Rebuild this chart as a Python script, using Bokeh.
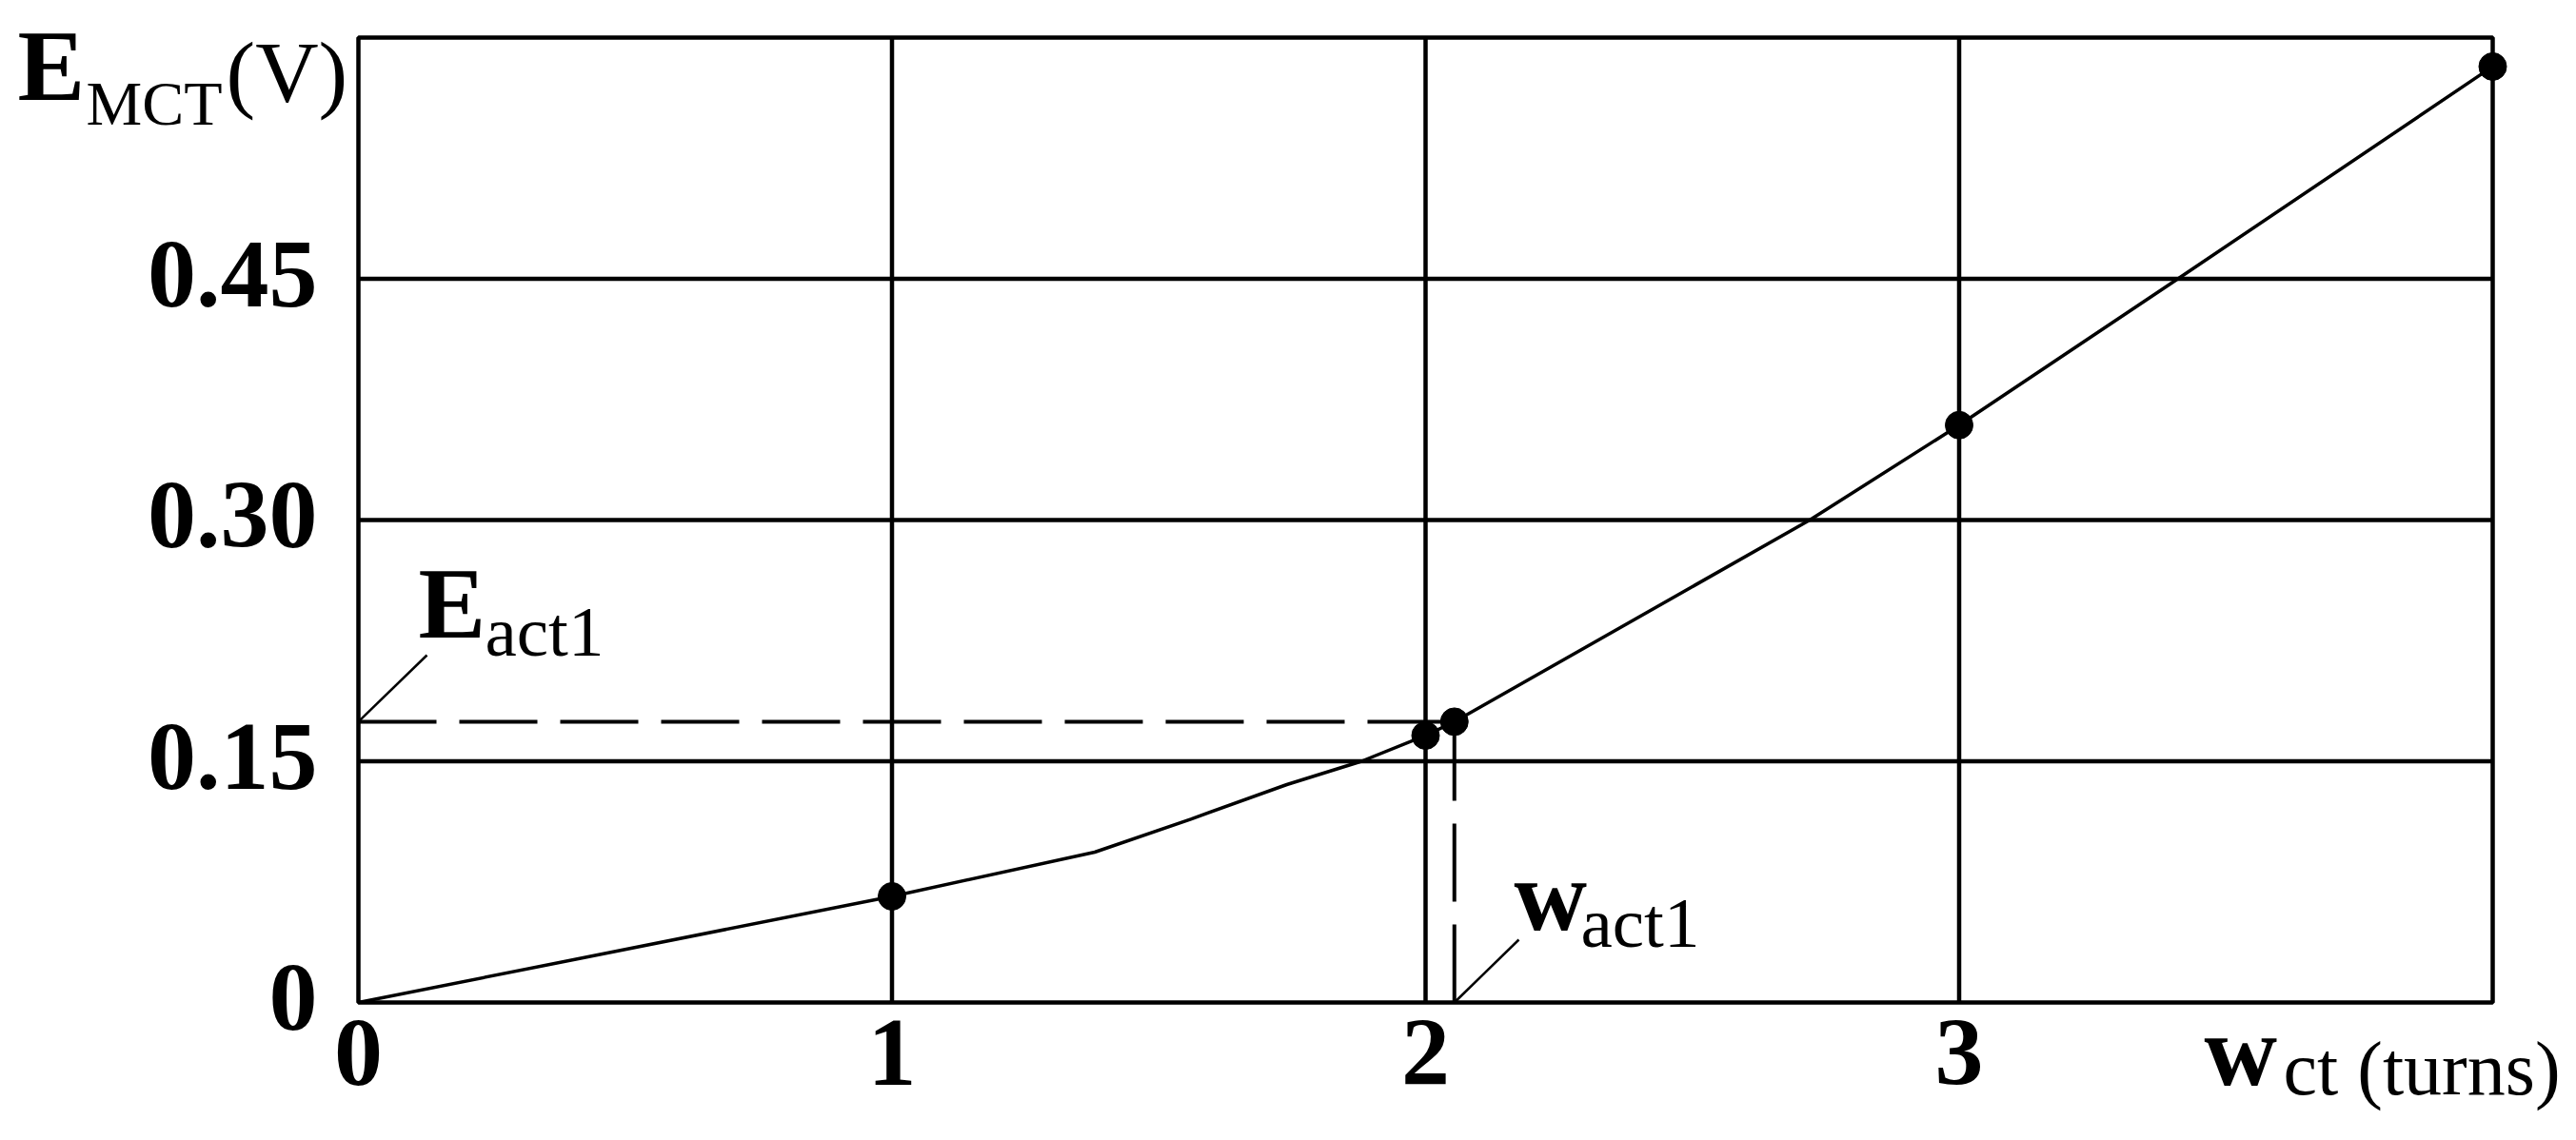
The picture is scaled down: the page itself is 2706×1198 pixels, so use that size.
from bokeh.plotting import figure
from bokeh.models import Range1d
from bokeh.core.properties import value
from bokeh.embed import file_html
from bokeh.resources import INLINE

# ---- data ----
turns = [1, 2, 3, 4]
emf = [0.066, 0.166, 0.359, 0.582]
curve_turns = [0, 1, 1.38, 1.56, 1.74, 1.88, 2, 2.054, 2.72, 3, 3.41, 4]
curve_emf = [0, 0.066, 0.0935, 0.114, 0.1355, 0.150, 0.166, 0.1746, 0.30, 0.359, 0.45, 0.582]
w_act1 = 2.054
e_act1 = 0.1746
x_ticks = [0, 1, 2, 3]
x_tick_labels = ["0", "1", "2", "3"]
y_ticks = [0, 0.15, 0.30, 0.45]
y_tick_labels = ["0", "0.15", "0.30", "0.45"]
x_grid = [1, 2, 3]
y_grid = [0.15, 0.30, 0.45]
x_min, x_max = 0, 4
y_min, y_max = 0, 0.6

SERIF = "Liberation Serif"

# ---- layout (pixels) ----
W, H = 2690, 1182
FRAME_L, FRAME_R, FRAME_T, FRAME_B = 376, 2618, 39, 1053
sx_per = (FRAME_R - FRAME_L) / (x_max - x_min)
sy_per = (FRAME_B - FRAME_T) / (y_max - y_min)
BASE_CORR = 0.37  # measured shift of the rendered alphabetic baseline, in em

def px2x(px):
    return x_min + (px - FRAME_L) / sx_per

def py2y(py):
    return y_min + (FRAME_B - py) / sy_per

p = figure(width=W, height=H, output_backend="svg", toolbar_location=None,
           x_range=Range1d(px2x(0), px2x(W)), y_range=Range1d(py2y(H), py2y(0)),
           x_axis_location=None, y_axis_location=None, min_border=0,
           background_fill_color="white", border_fill_color="white")
p.outline_line_color = None
p.grid.grid_line_color = None

# plot box and grid
p.quad(left=[x_min], right=[x_max], bottom=[y_min], top=[y_max],
       fill_color=None, line_color="black", line_width=4.5)
p.segment(x0=x_grid, x1=x_grid, y0=[y_min] * len(x_grid), y1=[y_max] * len(x_grid),
          line_color="black", line_width=4.5)
p.segment(x0=[x_min] * len(y_grid), x1=[x_max] * len(y_grid), y0=y_grid, y1=y_grid,
          line_color="black", line_width=4.5)

# tick labels
TICK_SIZE = 102
p.text(x=x_ticks, y=[y_min] * len(x_ticks), text=x_tick_labels,
       text_font=value(SERIF), text_font_style="bold", text_font_size=value(f"{TICK_SIZE}px"),
       text_align="center", text_baseline="alphabetic",
       y_offset=91 - BASE_CORR * TICK_SIZE, text_color="black")
p.text(x=[x_min] * len(y_ticks), y=y_ticks, text=y_tick_labels,
       text_font=value(SERIF), text_font_style="bold", text_font_size=value(f"{TICK_SIZE}px"),
       text_align="right", text_baseline="alphabetic", x_offset=-43,
       y_offset=33 - BASE_CORR * TICK_SIZE, text_color="black")

# curve
p.line(curve_turns, curve_emf, line_color="black", line_width=3.5)

# dashed guide lines
p.line([x_min, w_act1], [e_act1, e_act1], line_color="black", line_width=4, line_dash="82 24")
p.line([w_act1, w_act1], [y_min, e_act1], line_color="black", line_width=4, line_dash="82 24")

# markers
p.scatter(turns + [w_act1], emf + [e_act1], size=29, marker="circle",
          fill_color="black", line_color="black")

# leader lines
p.line([x_min, px2x(448)], [e_act1, py2y(688)], line_color="black", line_width=2.5)
p.line([w_act1, px2x(1595)], [y_min, py2y(987)], line_color="black", line_width=2.5)

def lab(px, py, t, size, bold=False):
    p.text(x=[px2x(px)], y=[py2y(py)], text=[t], text_font=value(SERIF),
           text_font_size=value(f"{size}px"), text_font_style="bold" if bold else "normal",
           text_color="black", text_align="left", text_baseline="alphabetic",
           y_offset=-BASE_CORR * size)

# E_act1
lab(439, 673, "E", 106, True)
lab(509, 691, "act1", 75)
# w_act1
lab(1590, 980, "w", 106, True)
lab(1660, 997, "act1", 75)
# y axis title
lab(18, 108, "E", 106, True)
lab(90, 132, "MCT", 66)
lab(237, 110, "(V)", 92)
# x axis title
lab(2315, 1143, "w", 106, True)
lab(2398, 1152, "ct (turns)", 80)

open("out.html", "w").write(file_html(p, INLINE))
